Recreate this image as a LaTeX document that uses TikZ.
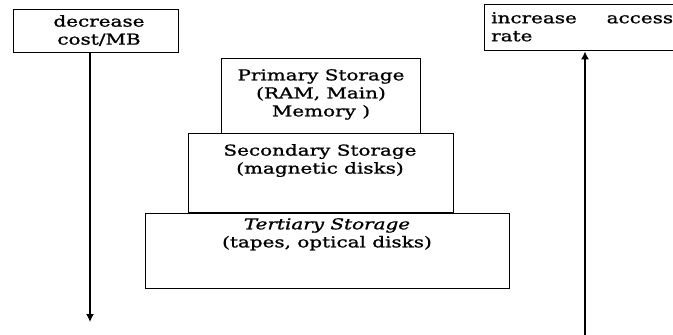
\documentclass[tikz,border=0pt]{standalone}
\usepackage{fontspec}
\setmainfont{DejaVu Serif}[FakeStretch=1.33,FakeBold=1.2]
\usetikzlibrary{arrows.meta}
\begin{document}
\begin{tikzpicture}[x=1pt,y=-1pt,
  box/.style={draw=black,line width=1.4pt,inner sep=0pt},
  txt/.style={font=\fontsize{15}{18}\selectfont,align=center,inner sep=0pt,anchor=north},
  arr/.style={line width=1.4pt,-{Latex[length=8pt,width=8pt]}}]
\useasboundingbox (0,0) rectangle (673,335);
\node[box,minimum width=165pt,minimum height=43pt,anchor=north west] (cost) at (13,9) {};
\node[txt] (costt) at (99,15) {decrease\\cost/MB};
\node[box,minimum width=220pt,minimum height=46pt,anchor=north west] (rate) at (484,4) {};
\node[txt,anchor=north west,align=left,text width=182pt] (ratet) at (491,12) {increase\hfill access\\rate};
\node[box,minimum width=199pt,minimum height=75pt,anchor=north west] (prim) at (221,58) {};
\node[box,minimum width=265pt,minimum height=79pt,anchor=north west] (sec) at (188,133) {};
\node[box,minimum width=364pt,minimum height=75pt,anchor=north west] (ter) at (145,213) {};
\node[txt] (primt) at (321,69) {Primary Storage\\(RAM, Main)\\Memory )};
\node[txt] (sect) at (320,144) {Secondary Storage\\(magnetic disks)};
\node[txt] (tert) at (327,218) {\textit{Tertiary Storage}\\(tapes, optical disks)};
\coordinate (costend) at (90,322);
\coordinate (ratestart) at (585,335);
\draw[arr] (cost.south -| costend) -- (costend);
\draw[arr] (ratestart) -- (ratestart |- rate.south);
\end{tikzpicture}
\end{document}
